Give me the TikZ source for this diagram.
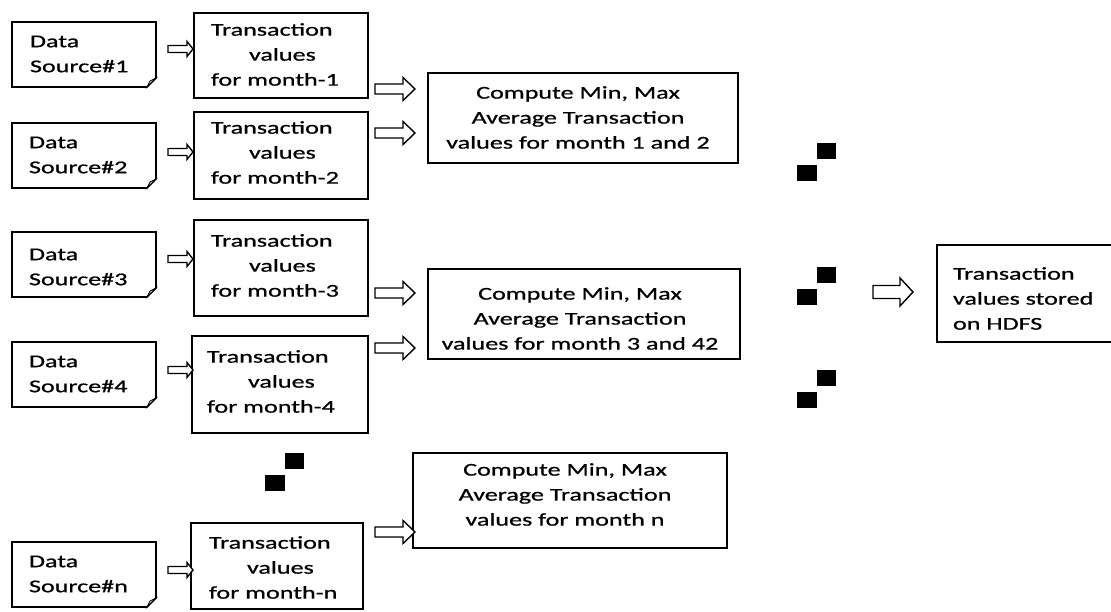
\documentclass[tikz,border=0pt]{standalone}
\usepackage{fontspec}
\setmainfont{Carlito}[FakeStretch=1.45,FakeBold=0.8]
\usetikzlibrary{calc}

% block arrow: x, y (tail, mid-line), length, shaft half-height, head half-height, head length
\newcommand\blockarrow[6]{%
  \draw[blockarr] (#1,{#2-#4}) -- ({#1+#3-#6},{#2-#4}) -- ({#1+#3-#6},{#2-#5})
    -- ({#1+#3},#2) -- ({#1+#3-#6},{#2+#5}) -- ({#1+#3-#6},{#2+#4})
    -- (#1,{#2+#4}) -- cycle;}
% a pair of small black squares (continuation marks)
\newcommand\dotpair[2]{%
  \fill ({#1+20},{#2}) rectangle ({#1+39},{#2+16});
  \fill (#1,{#2+22}) rectangle ({#1+20},{#2+38});}

\begin{document}
\begin{tikzpicture}[x=1pt,y=-1pt,
  txt/.style={font=\fontsize{18}{25}\selectfont, inner sep=0pt, outer sep=0pt},
  frame/.style={draw, line width=1.7pt, inner sep=0pt, outer sep=0pt},
  srcbox/.style={inner sep=0pt, outer sep=0pt},
  blockarr/.style={draw, fill=white, line width=1.4pt, line join=miter},
]
\useasboundingbox (0,0) rectangle (1111,612);

% ---------- data sources (note shape with folded corner) ----------
\foreach \n/\ya/\yb in {1/22/87, 2/123/188, 3/232/297, 4/342/407, n/542/607}{
  \node[srcbox, minimum width=144pt, minimum height={\yb-\ya}]
    (src\n) at (84,{(\ya+\yb)/2}) {};
  \draw[line width=1.7pt, line join=miter]
    (src\n.north west) -- (src\n.north east) -- ([yshift=9pt]src\n.south east)
    -- ([xshift=-9pt]src\n.south east) -- (src\n.south west) -- cycle;
  \draw[line width=0.8pt, fill=black!15]
    ([yshift=9pt]src\n.south east) -- ([xshift=-6pt,yshift=6pt]src\n.south east)
    -- ([xshift=-9pt]src\n.south east) -- cycle;
}
\node[txt, anchor=west, align=left] (src1-t) at (30,54)  {Data\\Source\#1};
\node[txt, anchor=west, align=left] (src2-t) at (29,155) {Data\\Source\#2};
\node[txt, anchor=west, align=left] (src3-t) at (29,267) {Data\\Source\#3};
\node[txt, anchor=west, align=left] (src4-t) at (29,374) {Data\\Source\#4};
\node[txt, anchor=west, align=left] (srcn-t) at (29,574) {Data\\Source\#n};

% ---------- monthly transaction boxes ----------
\node[frame, minimum width=174pt, minimum height=85pt] (tr1) at (281,55.5) {};
\node[frame, minimum width=174pt, minimum height=87pt] (tr2) at (281,155.5) {};
\node[frame, minimum width=174pt, minimum height=96pt] (tr3) at (281,268) {};
\node[frame, minimum width=176pt, minimum height=97pt] (tr4) at (280,384.5) {};
\node[frame, minimum width=172pt, minimum height=86pt] (trn) at (277,566) {};

\node[txt, anchor=west, align=left] (tr1-t) at (211,54.5)
  {Transaction\\\hspace*{38pt}values\\for month-1};
\node[txt, anchor=west, align=left] (tr2-t) at (211,152.5)
  {Transaction\\\hspace*{38pt}values\\for month-2};
\node[txt, anchor=west, align=left] (tr3-t) at (211,265.5)
  {Transaction\\\hspace*{38pt}values\\for month-3};
\node[txt, anchor=west, align=left] (tr4-t) at (207,381.5)
  {Transaction\\\hspace*{41pt}values\\for month-4};
\node[txt, anchor=west, align=left] (trn-t) at (209,567.5)
  {Transaction\\\hspace*{38pt}values\\for month-n};

% ---------- aggregation boxes ----------
\node[frame, minimum width=310pt, minimum height=90pt] (agg12) at (583,118) {};
\node[frame, minimum width=312pt, minimum height=90pt] (agg34) at (584,314) {};
\node[frame, minimum width=314pt, minimum height=95pt] (aggn)  at (570,500.5) {};

\node[txt, align=center] (agg12-t) at (578,117.5)
  {Compute Min, Max\\Average Transaction\\values for month 1 and 2};
\node[txt, align=center] (agg34-t) at (580,318.5)
  {Compute Min, Max\\Average Transaction\\values for month 3 and 42};
\node[txt, align=center] (aggn-t) at (565,494.5)
  {Compute Min, Max\\Average Transaction\\values for month n};

% ---------- storage ----------
\node[draw, line width=1.3pt, inner sep=0pt, outer sep=0pt,
      minimum width=176pt, minimum height=97pt] (hdfs) at (1025,293.5) {};
\node[txt, anchor=west, align=left] (hdfs-t) at (953,298.5)
  {Transaction\\values stored\\on HDFS};

% ---------- arrows ----------
\foreach \y in {49,152,259,370,570}{\blockarrow{168}{\y}{25}{3.5}{7.5}{6}}
\foreach \y in {89,133,293,348,532}{\blockarrow{375}{\y}{40}{5}{11.5}{12}}
\blockarrow{873}{292}{40}{6.5}{14}{13}

% ---------- continuation marks ----------
\dotpair{797}{143}
\dotpair{797}{267}
\dotpair{797}{370}
\dotpair{265}{453}
\end{tikzpicture}
\end{document}
